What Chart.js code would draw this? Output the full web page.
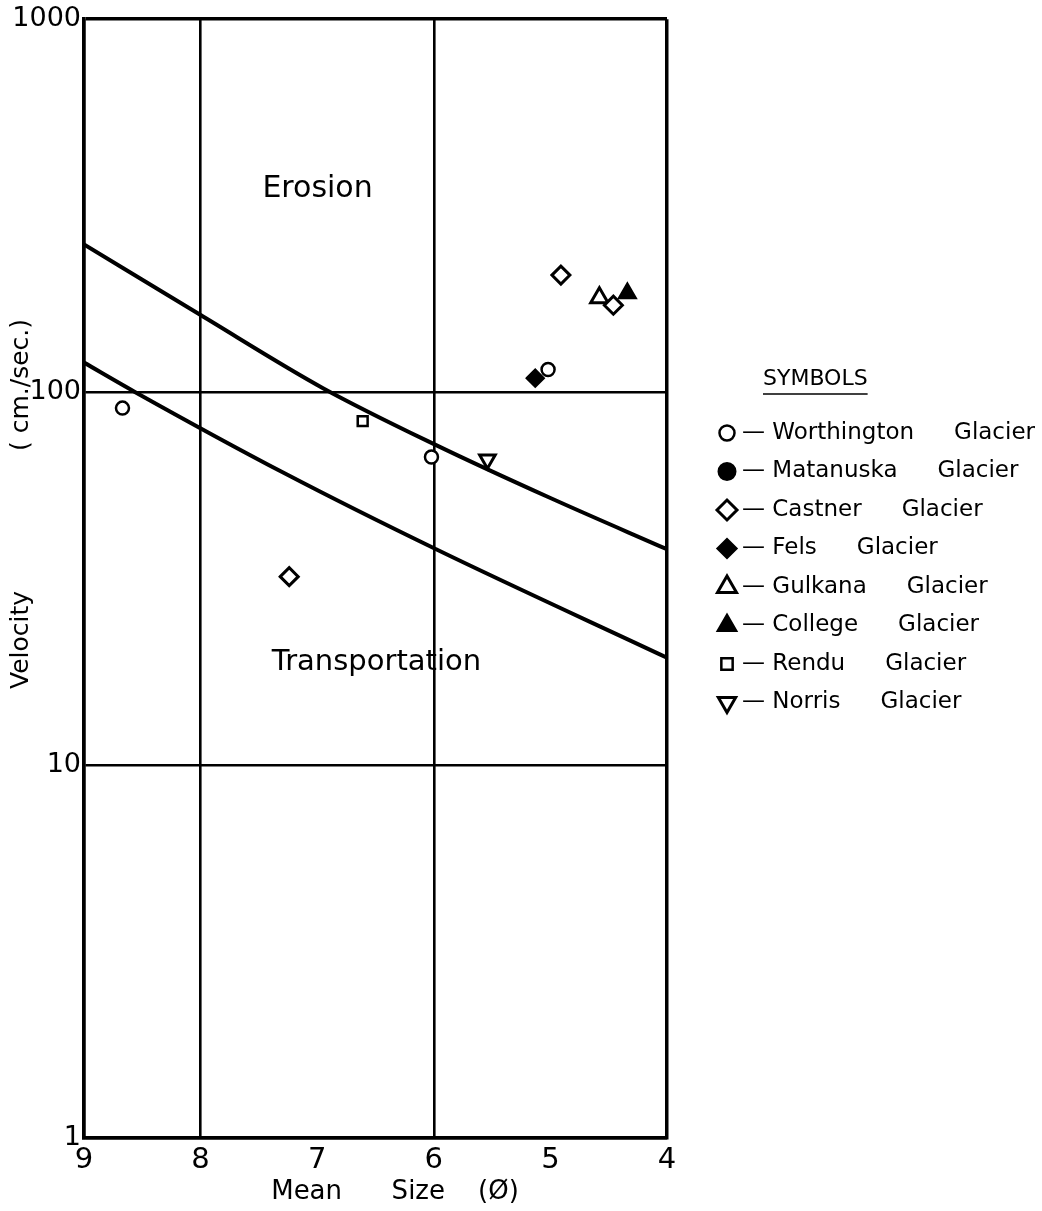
<!DOCTYPE html>
<html>
<head>
<meta charset="utf-8">
<script src="https://cdn.jsdelivr.net/npm/chart.js@4.4.0/dist/chart.umd.min.js"></script>
<style>
  html, body { margin: 0; padding: 0; background: #fff; }
  #wrap { width: 1042px; height: 1211px; }
</style>
</head>
<body>
<div id="wrap"><canvas id="myChart"></canvas></div>
<script>
// threshold curves (erosion / transportation)
const upperPhi = [9, 8.0, 6.95, 5.98, 5.0, 4];
const upperVel = [249, 161, 102.5, 72.1, 52.0, 37.9];
const lowerPhi = [9, 8.56, 7.28, 5.98, 4];
const lowerVel = [120, 100, 60.6, 37.9, 19.4];

// glacier samples: mean size (phi) and velocity (cm/sec)
const worthingtonPhi = [8.67, 6.02, 5.02];
const worthingtonVel = [90.6, 67, 115];
const matanuskaPhi = [];
const matanuskaVel = [];
const castnerPhi = [4.91, 4.46, 7.24];
const castnerVel = [206, 171, 32];
const felsPhi = [5.13];
const felsVel = [109];
const gulkanaPhi = [4.58];
const gulkanaVel = [179];
const collegePhi = [4.34];
const collegeVel = [184];
const renduPhi = [6.61];
const renduVel = [83.6];
const norrisPhi = [5.54];
const norrisVel = [66];

const xTicks = [9, 8, 7, 6, 5, 4];
const xGridAt = [9, 8, 6, 4];
const yTicks = [1, 10, 100, 1000];

const FONT = '"DejaVu Sans", sans-serif';

function pts(phi, vel) {
  return phi.map((p, i) => ({ x: p, y: vel[i] }));
}

function glacier(name, phi, vel, style) {
  return Object.assign({
    label: name,
    glacier: true,
    type: 'scatter',
    data: pts(phi, vel),
    showLine: false,
    pointBorderColor: '#000',
    pointBackgroundColor: '#fff',
    pointBorderWidth: 3,
    pointRotation: 0
  }, style);
}

function curve(phi, vel) {
  return {
    type: 'line',
    data: pts(phi, vel),
    borderColor: '#000',
    borderWidth: 4,
    pointRadius: 0,
    cubicInterpolationMode: 'monotone',
    fill: false
  };
}

// Erosion / Transportation labels, axis titles and the SYMBOLS key
const extras = {
  id: 'extras',
  afterDraw(chart) {
    const ctx = chart.ctx;
    const xs = chart.scales.x, ys = chart.scales.y;
    ctx.save();
    ctx.fillStyle = '#000';
    ctx.textBaseline = 'middle';

    ctx.font = '30px ' + FONT;
    ctx.fillText('Erosion', xs.getPixelForValue(7.47), ys.getPixelForValue(350));
    ctx.font = '29px ' + FONT;
    ctx.fillText('Transportation', xs.getPixelForValue(7.39), ys.getPixelForValue(18.8));

    // x title
    ctx.font = '26px ' + FONT;
    ctx.textAlign = 'center';
    ctx.fillText('Mean      Size    (\u00D8)', 395, 1192);

    // y title
    ctx.save();
    ctx.translate(21, 0);
    ctx.rotate(-Math.PI / 2);
    ctx.font = '25px ' + FONT;
    ctx.fillText('Velocity', -640, 0);
    ctx.fillText('( cm./sec.)', -385, 0);
    ctx.restore();

    // key
    ctx.textAlign = 'left';
    ctx.font = '22px ' + FONT;
    ctx.fillText('SYMBOLS', 763, 379);
    const w = ctx.measureText('SYMBOLS').width;
    ctx.strokeStyle = '#000';
    ctx.lineWidth = 1.5;
    ctx.beginPath();
    ctx.moveTo(763, 394);
    ctx.lineTo(763 + w, 394);
    ctx.stroke();

    ctx.font = '23px ' + FONT;
    chart.data.datasets.filter(d => d.glacier).forEach((d, i) => {
      const y = 433 + i * 38.5;
      ctx.fillStyle = d.pointBackgroundColor;
      ctx.strokeStyle = '#000';
      ctx.lineWidth = d.pointBorderWidth;
      Chart.helpers.drawPoint(ctx, {
        pointStyle: d.pointStyle,
        rotation: d.pointRotation,
        radius: d.pointRadius + 1,
        borderWidth: d.pointBorderWidth
      }, 727, y);
      ctx.fillStyle = '#000';
      const t = '\u2014 ' + d.label;
      ctx.fillText(t, 742, y);
      ctx.fillText('Glacier', 742 + ctx.measureText(t).width + 40, y);
    });
    ctx.restore();
  }
};

const ctx = document.getElementById('myChart').getContext('2d');
const myChart = new Chart(ctx, {
  type: 'scatter',
  data: {
    datasets: [
      curve(upperPhi, upperVel),
      curve(lowerPhi, lowerVel),
      glacier('Worthington', worthingtonPhi, worthingtonVel, { pointStyle: 'circle', pointRadius: 6.5, pointBorderWidth: 2.5 }),
      glacier('Matanuska', matanuskaPhi, matanuskaVel, { pointStyle: 'circle', pointRadius: 7, pointBackgroundColor: '#000' }),
      glacier('Castner', castnerPhi, castnerVel, { pointStyle: 'rectRot', pointRadius: 9 }),
      glacier('Fels', felsPhi, felsVel, { pointStyle: 'rectRot', pointRadius: 8, pointBackgroundColor: '#000' }),
      glacier('Gulkana', gulkanaPhi, gulkanaVel, { pointStyle: 'triangle', pointRadius: 10 }),
      glacier('College', collegePhi, collegeVel, { pointStyle: 'triangle', pointRadius: 9, pointBackgroundColor: '#000' }),
      glacier('Rendu', renduPhi, renduVel, { pointStyle: 'rect', pointRadius: 7, pointBorderWidth: 2.5 }),
      glacier('Norris', norrisPhi, norrisVel, { pointStyle: 'triangle', pointRadius: 9, pointRotation: 180 })
    ]
  },
  options: {
    responsive: true,
    maintainAspectRatio: false,
    animation: false,
    layout: { padding: { top: 18, right: 375, left: 0, bottom: 0 } },
    plugins: {
      legend: { display: false },
      tooltip: { enabled: false }
    },
    scales: {
      x: {
        type: 'linear',
        min: 4,
        max: 9,
        reverse: true,
        afterBuildTicks: s => { s.ticks = xTicks.map(v => ({ value: v })); },
        afterFit: s => { s.height = 73; },
        grid: {
          drawTicks: false,
          color: c => xGridAt.includes(c.tick.value) ? '#000' : 'rgba(0,0,0,0)',
          lineWidth: c => (c.tick.value === 9 || c.tick.value === 4) ? 3.5 : 2.6
        },
        border: { display: true, color: '#000', width: 3.5 },
        ticks: {
          color: '#000',
          font: { family: FONT, size: 29 },
          padding: 5,
          autoSkip: false,
          maxRotation: 0,
          callback: v => String(v)
        }
      },
      y: {
        type: 'logarithmic',
        min: 1,
        max: 1000,
        afterBuildTicks: s => { s.ticks = yTicks.map(v => ({ value: v })); },
        afterFit: s => { s.width = 84; },
        grid: {
          drawTicks: false,
          color: '#000',
          lineWidth: c => (c.tick.value === 1 || c.tick.value === 1000) ? 3.5 : 2.6
        },
        border: { display: true, color: '#000', width: 3.5 },
        ticks: {
          color: '#000',
          font: { family: FONT, size: 27 },
          padding: 3,
          autoSkip: false,
          callback: v => String(v)
        }
      }
    }
  },
  plugins: [extras]
});
</script>
</body>
</html>
